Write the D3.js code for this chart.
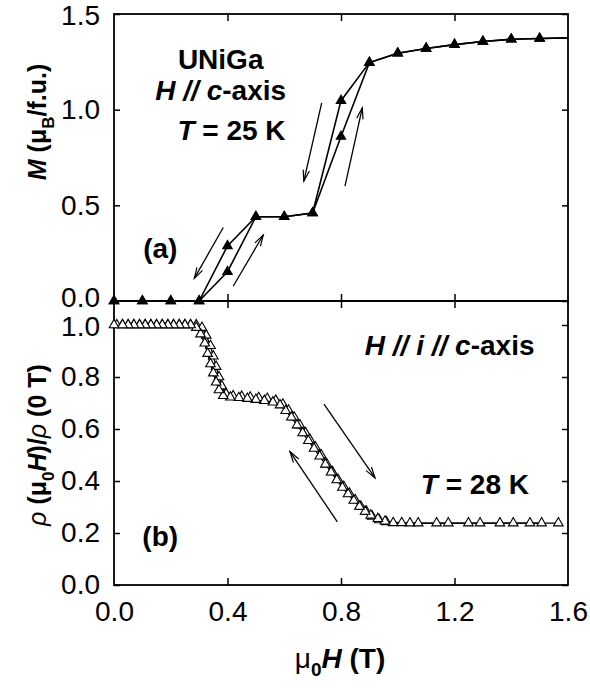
<!DOCTYPE html>
<html>
<head>
<meta charset="utf-8">
<script src="https://cdn.jsdelivr.net/npm/d3@7"></script>
<style>
body { margin: 0; background: #fff; }
text { font-family: "Liberation Sans", Arial, sans-serif; }
</style>
</head>
<body>
<div id="chart"></div>
<script>
// ---- data ----
var xTicks = [0, 0.4, 0.8, 1.2, 1.6];
var magTicks = [0, 0.5, 1.0, 1.5];
var resTicks = [0, 0.2, 0.4, 0.6, 0.8, 1.0];

// (a) magnetization, field sweep up / down (last value is the line end at 1.6 T)
var magField = [0, 0.1, 0.2, 0.3, 0.4, 0.5, 0.6, 0.7, 0.8, 0.9, 1.0, 1.1, 1.2, 1.3, 1.4, 1.5, 1.6];
var magUp    = [0, 0, 0, 0, 0.153, 0.44, 0.44, 0.46, 0.86, 1.246, 1.295, 1.32, 1.34, 1.356, 1.368, 1.372, 1.375];
var magDown  = [0, 0, 0, 0, 0.288, 0.44, 0.44, 0.46, 1.047, 1.246, 1.295, 1.32, 1.34, 1.356, 1.368, 1.372, 1.375];

// (b) normalized resistivity, increasing field branch
var resUp = [
  [0.01, 1.0], [0.03, 1.0], [0.05, 1.0], [0.07, 1.0], [0.09, 1.0], [0.11, 1.0], [0.13, 1.0],
  [0.15, 1.0], [0.17, 1.0], [0.19, 1.0], [0.21, 1.0], [0.23, 1.0], [0.25, 1.0], [0.27, 1.0],
  [0.29, 1.0], [0.31, 0.99], [0.325, 0.96], [0.34, 0.92], [0.35, 0.88], [0.36, 0.84],
  [0.37, 0.80], [0.38, 0.765], [0.395, 0.735], [0.42, 0.727], [0.45, 0.725], [0.48, 0.722],
  [0.51, 0.72], [0.54, 0.717], [0.57, 0.71], [0.595, 0.695], [0.615, 0.672], [0.635, 0.645],
  [0.655, 0.615], [0.675, 0.585], [0.69, 0.56], [0.71, 0.53], [0.73, 0.50], [0.75, 0.465],
  [0.77, 0.435], [0.79, 0.405], [0.81, 0.378], [0.83, 0.352], [0.85, 0.327], [0.87, 0.302],
  [0.89, 0.282], [0.91, 0.264], [0.935, 0.25], [0.96, 0.243], [0.984, 0.239], [1.043, 0.238],
  [1.137, 0.238], [1.249, 0.238], [1.36, 0.238], [1.466, 0.238], [1.566, 0.238]
];
// (b) decreasing field branch
var resDown = [
  [1.507, 0.238], [1.407, 0.238], [1.29, 0.238], [1.178, 0.238], [1.072, 0.238], [1.014, 0.239],
  [0.955, 0.245], [0.93, 0.255], [0.905, 0.268], [0.885, 0.283], [0.865, 0.302], [0.845, 0.325],
  [0.825, 0.35], [0.805, 0.375], [0.785, 0.404], [0.765, 0.434], [0.745, 0.464], [0.725, 0.495],
  [0.705, 0.525], [0.685, 0.555], [0.665, 0.585], [0.645, 0.615], [0.625, 0.645], [0.605, 0.67],
  [0.585, 0.692], [0.56, 0.703], [0.53, 0.709], [0.50, 0.713], [0.47, 0.717], [0.44, 0.72],
  [0.41, 0.722], [0.385, 0.728], [0.37, 0.75], [0.36, 0.78], [0.35, 0.815], [0.34, 0.85],
  [0.33, 0.89], [0.32, 0.93], [0.305, 0.965], [0.29, 0.99], [0.27, 1.0], [0.25, 1.0],
  [0.23, 1.0], [0.21, 1.0], [0.19, 1.0], [0.17, 1.0], [0.15, 1.0], [0.13, 1.0], [0.11, 1.0],
  [0.09, 1.0], [0.07, 1.0], [0.05, 1.0], [0.03, 1.0], [0.0, 1.0]
];

// sweep arrows [x1, y1, x2, y2] in data units, head at the second point
var magArrows = [
  [0.385, 0.384, 0.283, 0.118],
  [0.420, 0.077, 0.526, 0.345],
  [0.732, 1.035, 0.669, 0.627],
  [0.814, 0.600, 0.875, 1.009]
];
var resArrows = [
  [0.740, 0.696, 0.920, 0.412],
  [0.787, 0.243, 0.620, 0.513]
];

// ---- layout ----
var width = 590, height = 688;
var svg = d3.select('#chart').append('svg')
            .attr('width', width)
            .attr('height', height);

var x = d3.scaleLinear().domain([0, 1.6]).range([114, 568]);
var yMag = d3.scaleLinear().domain([0, 1.5]).range([301, 14]);
var yRes = d3.scaleLinear().domain([0, 1.0]).range([585, 325]);
var resTop = 301;

svg.append('defs').append('marker')
   .attr('id', 'head')
   .attr('viewBox', '-12 -5 14 10')
   .attr('markerWidth', 14)
   .attr('markerHeight', 10)
   .attr('markerUnits', 'userSpaceOnUse')
   .attr('orient', 'auto')
   .append('path')
   .attr('d', 'M-11,-3.2 L0,0 L-11,3.2')
   .attr('fill', 'none')
   .attr('stroke', '#000')
   .attr('stroke-width', 1.2);

function frameAxes(yScale, yTicks, top, bottom) {
    var g = svg.append('g');
    // left with labels
    g.append('g').attr('class', 'yleft').attr('transform', 'translate(114,0)')
        .call(d3.axisLeft(yScale).tickValues(yTicks).tickSize(-6).tickPadding(14)
              .tickFormat(d3.format('.1f')));
    g.append('g').attr('transform', 'translate(568,0)')
        .call(d3.axisRight(yScale).tickValues(yTicks).tickSize(-6).tickFormat(''));
    g.append('g').attr('transform', 'translate(0,' + bottom + ')')
        .call(d3.axisBottom(x).tickValues([0.4, 0.8, 1.2]).tickSize(-7).tickFormat(''));
    g.append('g').attr('transform', 'translate(0,' + top + ')')
        .call(d3.axisTop(x).tickValues([0.4, 0.8, 1.2]).tickSize(-7).tickFormat(''));
    g.selectAll('.domain').remove();
    g.selectAll('.tick line').attr('stroke', '#000').attr('stroke-width', 1.5);
    g.selectAll('.tick text').attr('font-size', 28).attr('fill', '#000');
    g.append('rect')
     .attr('x', 114).attr('y', top)
     .attr('width', 568 - 114).attr('height', bottom - top)
     .attr('fill', 'none').attr('stroke', '#000').attr('stroke-width', 1.8);
    return g;
}

var gMag = frameAxes(yMag, magTicks, 14, 301);
var gRes = frameAxes(yRes, resTicks, resTop, 585);
// the two labels where the panels meet sit very close, as in the figure
gMag.selectAll('.yleft .tick text').filter(function (d) { return d === 0; }).attr('y', -3);
gMag.selectAll('.yleft .tick text').filter(function (d) { return d === 1.5; }).attr('y', 2);
gRes.selectAll('.yleft .tick text').filter(function (d) { return d === 1.0; }).attr('y', 2);

// x tick labels under panel (b)
svg.append('g').attr('transform', 'translate(0,585)')
   .call(d3.axisBottom(x).tickValues(xTicks).tickSize(0).tickPadding(16)
         .tickFormat(d3.format('.1f')))
   .call(function (g) { g.select('.domain').remove(); })
   .selectAll('text').attr('font-size', 28).attr('fill', '#000');

// ---- panel (a) ----
var magLine = d3.line()
    .x(function (d) { return x(d[0]); })
    .y(function (d) { return yMag(d[1]); });

[magUp, magDown].forEach(function (series) {
    var pts = magField.map(function (h, i) { return [h, series[i]]; });
    svg.append('path')
       .datum(pts)
       .attr('d', magLine)
       .attr('fill', 'none')
       .attr('stroke', '#000')
       .attr('stroke-width', 1.6);
    svg.selectAll(null)
       .data(pts.slice(0, 16))
       .enter()
       .append('path')
       .attr('d', d3.symbol(d3.symbolTriangle, 56))
       .attr('transform', function (d) { return 'translate(' + x(d[0]) + ',' + yMag(d[1]) + ')'; })
       .attr('fill', '#000');
});

// ---- panel (b) ----
var resLine = d3.line()
    .x(function (d) { return x(d[0]); })
    .y(function (d) { return yRes(d[1]); });

[resUp, resDown].forEach(function (series) {
    svg.append('path')
       .datum(series)
       .attr('d', resLine)
       .attr('fill', 'none')
       .attr('stroke', '#000')
       .attr('stroke-width', 1.3);
});
[resUp, resDown].forEach(function (series) {
    svg.selectAll(null)
       .data(series)
       .enter()
       .append('path')
       .attr('d', d3.symbol(d3.symbolTriangle, 40))
       .attr('transform', function (d) { return 'translate(' + x(d[0]) + ',' + yRes(d[1]) + ')'; })
       .attr('fill', '#fff')
       .attr('stroke', '#000')
       .attr('stroke-width', 1.1);
});

// ---- arrows ----
function drawArrows(list, yScale) {
    svg.selectAll(null)
       .data(list)
       .enter()
       .append('line')
       .attr('x1', function (d) { return x(d[0]); })
       .attr('y1', function (d) { return yScale(d[1]); })
       .attr('x2', function (d) { return x(d[2]); })
       .attr('y2', function (d) { return yScale(d[3]); })
       .attr('stroke', '#000')
       .attr('stroke-width', 1.3)
       .attr('marker-end', 'url(#head)');
}
drawArrows(magArrows, yMag);
drawArrows(resArrows, yRes);

// ---- text ----
function label(px, py, anchor, parts, size, rotate) {
    var t = svg.append('text')
               .attr('font-size', size || 28)
               .attr('font-weight', 'bold')
               .attr('text-anchor', anchor)
               .attr('fill', '#000');
    if (rotate) {
        t.attr('transform', 'translate(' + px + ',' + py + ') rotate(-90)');
    } else {
        t.attr('x', px).attr('y', py);
    }
    parts.forEach(function (p) {
        var s = t.append('tspan').text(p.t);
        if (p.i) s.attr('font-style', 'italic');
        if (p.n) s.attr('font-weight', 'normal');
        if (p.sub) s.attr('font-size', (size || 28) * 0.68).attr('dy', p.sub);
        if (p.dy) s.attr('dy', p.dy);
    });
    return t;
}

label(x(0.376), yMag(1.21), 'middle', [{t: 'UNiGa'}]);
label(x(0.376), yMag(1.052), 'middle', [{t: 'H', i: 1}, {t: ' // ', i: 1}, {t: 'c', i: 1}, {t: '-axis'}]);
label(x(0.414), yMag(0.84), 'middle', [{t: 'T', i: 1}, {t: ' = 25 K'}]);
label(x(0.163), yMag(0.225), 'middle', [{t: '(a)'}]);

label(x(1.183), yRes(0.883), 'middle', [{t: 'H', i: 1}, {t: ' // ', i: 1}, {t: 'i', i: 1}, {t: ' // ', i: 1}, {t: 'c', i: 1}, {t: '-axis'}]);
label(x(1.272), yRes(0.35), 'middle', [{t: 'T', i: 1}, {t: ' = 28 K'}]);
label(x(0.163), yRes(0.15), 'middle', [{t: '(b)'}]);

// axis titles
label(340, 668, 'middle', [{t: 'μ', n: 1}, {t: '0', sub: 8}, {t: 'H', i: 1, dy: -8}, {t: ' (T)'}]);
label(46, 122, 'middle', [{t: 'M', i: 1}, {t: ' (μ'}, {t: 'B', sub: 8}, {t: '/f.u.)', dy: -8}], 25, true);
label(46, 445, 'middle', [{t: 'ρ', i: 1, n: 1}, {t: ' (μ'}, {t: '0', sub: 8}, {t: 'H', i: 1, dy: -8}, {t: ')/'}, {t: 'ρ', i: 1, n: 1}, {t: ' (0 T)'}], 25, true);
</script>
</body>
</html>
